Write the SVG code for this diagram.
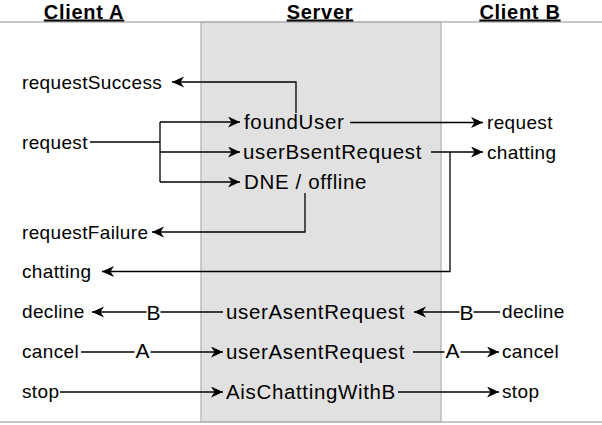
<svg xmlns="http://www.w3.org/2000/svg" width="602" height="425" viewBox="0 0 602 425">
<style>
.hdr{font-family:"Liberation Sans",Arial,sans-serif;font-size:20px;font-weight:bold;letter-spacing:0.7px;text-decoration:underline;fill:#000}
.cl{font-family:"Liberation Sans",Arial,sans-serif;font-size:19px;letter-spacing:0.35px;fill:#000}
.sv{font-family:"Liberation Sans",Arial,sans-serif;font-size:20.5px;letter-spacing:0.65px;fill:#000}
.lbl{font-family:"Liberation Sans",Arial,sans-serif;font-size:21px;fill:#000;text-anchor:middle}
.ln{fill:none;stroke:#000;stroke-width:1.3}
.rule{stroke:#b4b4b4;stroke-width:1.3}
</style>
<defs>
<marker id="arr" markerUnits="userSpaceOnUse" markerWidth="13" markerHeight="12" refX="12" refY="5.5" orient="auto">
<path d="M0,0 L12,5.5 L0,11 L3.5,5.5 z" fill="#000"/>
</marker>
</defs>
<rect width="602" height="425" fill="#fff"/>
<g id="lanes">
<rect x="201" y="22" width="240" height="400" fill="#e1e1e1" stroke="#b4b4b4" stroke-width="1.3"/>
<line class="rule" x1="0" y1="22" x2="602" y2="22"/>
<line class="rule" x1="0" y1="422" x2="602" y2="422"/>
</g>
<g id="header-clientA"><text class="hdr" x="84" y="18.5" text-anchor="middle">Client A</text></g>
<g id="header-server"><text class="hdr" x="320" y="18.5" text-anchor="middle">Server</text></g>
<g id="header-clientB"><text class="hdr" x="520" y="18.5" text-anchor="middle">Client B</text></g>

<g id="connectors">
<path class="ln" d="M296,113 V82 H172" marker-end="url(#arr)"/>
<path class="ln" d="M90,142 H160"/>
<path class="ln" d="M160,122 V182"/>
<path class="ln" d="M160,122 H240" marker-end="url(#arr)"/>
<path class="ln" d="M160,152 H240" marker-end="url(#arr)"/>
<path class="ln" d="M160,182 H240" marker-end="url(#arr)"/>
<path class="ln" d="M350,122.5 H483" marker-end="url(#arr)"/>
<path class="ln" d="M431,152 H483" marker-end="url(#arr)"/>
<path class="ln" d="M450,152 V271.5 H102" marker-end="url(#arr)"/>
<path class="ln" d="M305,193 V232 H152" marker-end="url(#arr)"/>
<path class="ln" d="M223,312 H92" marker-end="url(#arr)"/>
<path class="ln" d="M500,312 H414" marker-end="url(#arr)"/>
<path class="ln" d="M81,352 H223" marker-end="url(#arr)"/>
<path class="ln" d="M413,352 H499" marker-end="url(#arr)"/>
<path class="ln" d="M60,392 H223" marker-end="url(#arr)"/>
<path class="ln" d="M398,392 H499" marker-end="url(#arr)"/>
<rect x="146.5" y="304" width="14" height="17" fill="#fff"/>
<text class="lbl" x="153.5" y="319.5">B</text>
<rect x="459.5" y="304" width="14" height="17" fill="#fff"/>
<text class="lbl" x="466.5" y="319.5">B</text>
<rect x="134.5" y="343" width="16" height="17" fill="#fff"/>
<text class="lbl" x="142.5" y="358">A</text>
<rect x="444.5" y="343" width="16" height="17" fill="#fff"/>
<text class="lbl" x="452.5" y="358">A</text>
</g>

<g id="a-requestSuccess"><text class="cl" x="22" y="88.5">requestSuccess</text></g>
<g id="a-request"><text class="cl" x="22" y="148.5">request</text></g>
<g id="a-requestFailure"><text class="cl" x="22" y="238.5">requestFailure</text></g>
<g id="a-chatting"><text class="cl" x="22" y="278">chatting</text></g>
<g id="a-decline"><text class="cl" x="22" y="318">decline</text></g>
<g id="a-cancel"><text class="cl" x="22" y="358">cancel</text></g>
<g id="a-stop"><text class="cl" x="22" y="398">stop</text></g>

<g id="s-foundUser"><text class="sv" x="244" y="128.5">foundUser</text></g>
<g id="s-userBsentRequest"><text class="sv" x="243" y="158.5">userBsentRequest</text></g>
<g id="s-dneOffline"><text class="sv" x="244" y="188.5">DNE / offline</text></g>
<g id="s-userAsentRequest1"><text class="sv" x="226" y="318.5">userAsentRequest</text></g>
<g id="s-userAsentRequest2"><text class="sv" x="226" y="358.5">userAsentRequest</text></g>
<g id="s-aisChatting"><text class="sv" x="226" y="398.5">AisChattingWithB</text></g>

<g id="b-request"><text class="cl" x="487" y="128.5">request</text></g>
<g id="b-chatting"><text class="cl" x="487" y="158.5">chatting</text></g>
<g id="b-decline"><text class="cl" x="502" y="318">decline</text></g>
<g id="b-cancel"><text class="cl" x="502" y="358">cancel</text></g>
<g id="b-stop"><text class="cl" x="502" y="398">stop</text></g>
</svg>
